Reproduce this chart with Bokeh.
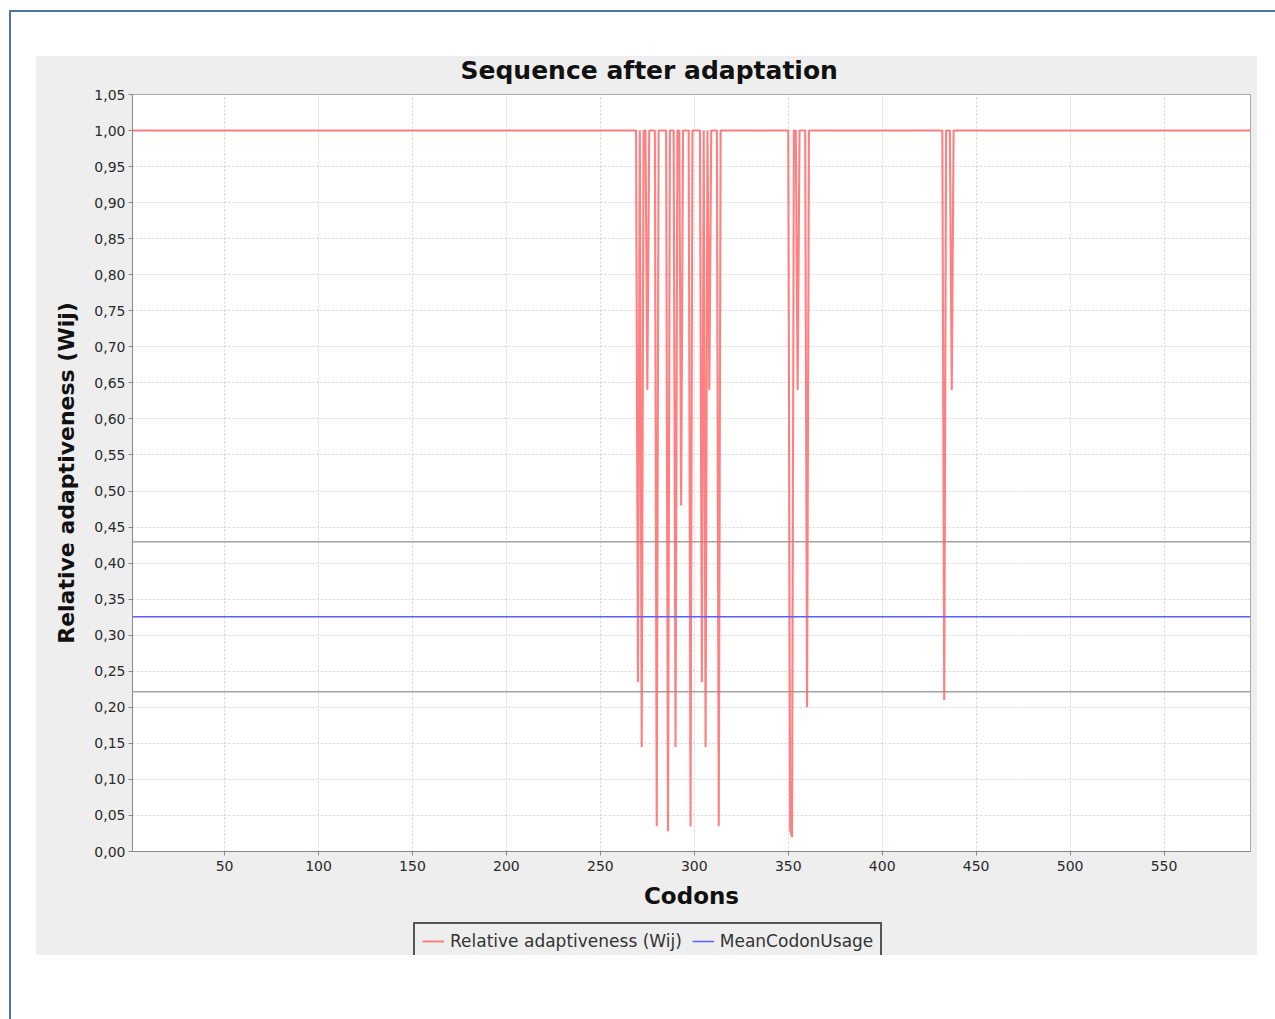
import numpy as np
from bokeh.plotting import figure
from bokeh.models import Range1d, FixedTicker, Legend, LegendItem, Spacer
from bokeh.layouts import column, row
from bokeh.embed import file_html
from bokeh.resources import INLINE

# ---------------- data ----------------
n_codons = 596
baseline_w = 1.0
dip_codons = [270, 272, 275, 280, 286, 290, 293, 298, 304, 306, 308, 313,
              351, 352, 355, 360, 433, 437]
dip_values = [0.235, 0.145, 0.64, 0.035, 0.028, 0.145, 0.48, 0.035, 0.235, 0.145, 0.64, 0.035,
              0.03, 0.02, 0.64, 0.20, 0.21, 0.64]
mean_codon_usage = 0.3255
upper_band = 0.4295
lower_band = 0.2215

x_ticks = [50, 100, 150, 200, 250, 300, 350, 400, 450, 500, 550]
x_tick_labels = ["50", "100", "150", "200", "250", "300", "350", "400", "450", "500", "550"]
y_ticks = [0.0, 0.05, 0.10, 0.15, 0.20, 0.25, 0.30, 0.35, 0.40, 0.45, 0.50,
           0.55, 0.60, 0.65, 0.70, 0.75, 0.80, 0.85, 0.90, 0.95, 1.00, 1.05]
y_tick_labels = ["0,00", "0,05", "0,10", "0,15", "0,20", "0,25", "0,30", "0,35", "0,40", "0,45", "0,50",
                 "0,55", "0,60", "0,65", "0,70", "0,75", "0,80", "0,85", "0,90", "0,95", "1,00", "1,05"]

title_text = "Sequence after adaptation"
x_label = "Codons"
y_label = "Relative adaptiveness (Wij)"
series_names = ["Relative adaptiveness (Wij)", "MeanCodonUsage"]

codons = np.arange(1, n_codons + 1)
w = np.full(n_codons, baseline_w)
for c, v in zip(dip_codons, dip_values):
    w[c - 1] = v

FONT = "DejaVu Sans"
PANEL = "#eeeeee"
RED = "#ff6060"
BLUE = "#5c5cff"
GRAY_BAND = "#a4a4a4"
BL, BR = 96, 7  # borders giving the plot frame x 132..1250 on the page

# ---------------- title strip ----------------
title_fig = figure(width=1221, height=32, output_backend="svg", toolbar_location=None,
                   x_axis_type=None, y_axis_type=None,
                   min_border_left=BL, min_border_right=BR, min_border_top=0, min_border_bottom=0,
                   background_fill_color=None, border_fill_color=PANEL, outline_line_color=None)
title_fig.grid.visible = False
title_fig.title.text = title_text
title_fig.title.text_font = FONT
title_fig.title.text_font_style = "bold"
title_fig.title.text_font_size = "25px"
title_fig.title.text_line_height = 1.0
title_fig.title.text_color = "#111111"
title_fig.title.align = "left"
title_fig.title.offset = 328
title_fig.title.vertical_align = "top"
title_fig.title.standoff = 4
title_fig.scatter([0], [0], alpha=0)

# ---------------- main chart ----------------
p = figure(width=1221, height=831,
           x_range=Range1d(codons[0], codons[-1]), y_range=Range1d(0, 1.05),
           output_backend="svg", toolbar_location=None,
           min_border_left=BL, min_border_right=BR, min_border_top=6, min_border_bottom=68,
           background_fill_color="white", border_fill_color=PANEL,
           outline_line_color="#aaaaaa", outline_line_width=1)

p.xaxis.ticker = FixedTicker(ticks=x_ticks)
p.xaxis.major_label_overrides = {t: l for t, l in zip(x_ticks, x_tick_labels)}
p.yaxis.ticker = FixedTicker(ticks=y_ticks)
p.yaxis.major_label_overrides = {t: l for t, l in zip(y_ticks, y_tick_labels)}

for ax in (p.xaxis[0], p.yaxis[0]):
    ax.axis_line_color = "#888888"
    ax.major_tick_line_color = "#888888"
    ax.minor_tick_line_color = None
    ax.major_tick_in = 0
    ax.major_tick_out = 4
    ax.major_label_text_font = FONT
    ax.major_label_text_font_size = "14px"
    ax.major_label_text_color = "#2a2a2a"
    ax.axis_label_text_font = FONT
    ax.axis_label_text_font_style = "bold"
    ax.axis_label_text_color = "#111111"

p.xaxis.axis_label = x_label
p.xaxis.axis_label_text_font_size = "23px"
p.xaxis.major_label_standoff = 5
p.xaxis.axis_label_standoff = 9
p.yaxis.axis_label = y_label
p.yaxis.axis_label_text_font_size = "22px"
p.yaxis.major_label_standoff = 3
p.yaxis.axis_label_standoff = 12

p.xgrid.ticker = FixedTicker(ticks=x_ticks)
p.ygrid.ticker = FixedTicker(ticks=y_ticks)
for g in (p.xgrid[0], p.ygrid[0]):
    g.grid_line_color = "#d4d4d4"
    g.grid_line_dash = "2 2"
    g.grid_line_width = 1

x_span = [codons[0], codons[-1]]
p.line(x_span, [upper_band, upper_band], line_color=GRAY_BAND, line_width=1.5)
p.line(x_span, [lower_band, lower_band], line_color=GRAY_BAND, line_width=1.5)
p.line(codons, w, line_color=RED, line_width=2.1, line_alpha=0.8)
p.line(x_span, [mean_codon_usage, mean_codon_usage], line_color=BLUE, line_width=1.5)

# ---------------- legend strip ----------------
legend_fig = figure(width=1221, height=36, output_backend="svg", toolbar_location=None,
                    x_axis_type=None, y_axis_type=None,
                    x_range=Range1d(codons[0], codons[-1]), y_range=Range1d(10, 11),
                    min_border_left=BL, min_border_right=BR, min_border_top=0, min_border_bottom=0,
                    background_fill_color=None, border_fill_color=PANEL, outline_line_color=None)
legend_fig.grid.visible = False
lr_w = legend_fig.line(codons, w, line_color=RED, line_width=1.8, line_alpha=0.85)
lr_mean = legend_fig.line(x_span, [mean_codon_usage, mean_codon_usage], line_color=BLUE, line_width=1.5)
legend = Legend(items=[LegendItem(label=series_names[0], renderers=[lr_w]),
                       LegendItem(label=series_names[1], renderers=[lr_mean])],
                location=(281, -5), orientation="horizontal",
                label_text_font=FONT, label_text_font_size="17px", label_text_color="#333333",
                glyph_width=22, glyph_height=18, label_standoff=6, spacing=10,
                padding=7, margin=0,
                border_line_color="#555555", border_line_width=2, border_line_alpha=1.0,
                background_fill_color=PANEL, background_fill_alpha=1.0)
legend_fig.add_layout(legend, "center")

# ---------------- page frame ----------------
blue = "#4a76a8"
top_white = Spacer(width=1275, height=10)
top_line = row(Spacer(width=9, height=2),
               Spacer(width=1266, height=2, styles={"background-color": blue}))
chart = column(title_fig, p, legend_fig, styles={"background-color": PANEL})
body = row(Spacer(width=9, height=1007),
           Spacer(width=2, height=1007, styles={"background-color": blue}),
           Spacer(width=25, height=1007),
           column(Spacer(width=1221, height=44), chart))
layout = column(top_white, top_line, body)

open("out.html", "w").write(file_html(layout, INLINE))
